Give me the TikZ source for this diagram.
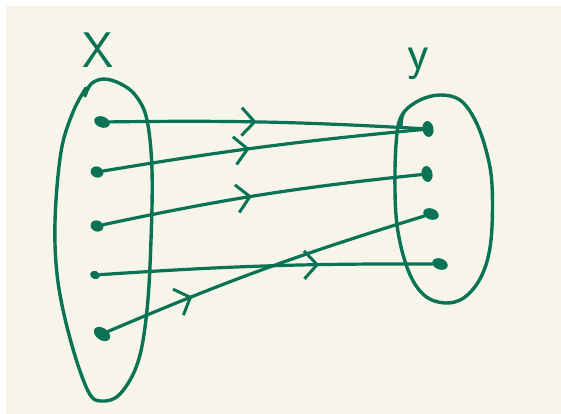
\documentclass[tikz,border=0pt]{standalone}
\usepackage{tikz}
\usetikzlibrary{positioning,calc,shapes.geometric,arrows.meta,decorations.markings}

\definecolor{ink}{RGB}{10,115,85}
\definecolor{paper}{RGB}{247,245,233}

\begin{document}
\begin{tikzpicture}[x=1pt, y=-1pt,
    setline/.style={draw=ink, line width=3.4pt, line cap=round, line join=round},
    dot/.style={ellipse, fill=ink, inner sep=0pt, minimum width=16pt, minimum height=11pt, rotate=-20},
    setname/.style={text=ink, font=\sffamily\fontsize{50}{50}\selectfont},
    map/.style={draw=ink, line width=3.2pt, line cap=round, postaction={decorate},
        decoration={markings, mark=at position #1 with {\arrow{Straight Barb[length=13pt,width=28pt,line width=3pt]}}}}
]

% Paper
\useasboundingbox (0,0) rectangle (561,414);
\fill[white] (0,0) rectangle (561,414);
\fill[paper] (6,6) rectangle (561,414);

% Set names
\node[setname] (nameX) at (98,50) {X};
\node[setname] (nameY) at (418,64) {y};

% Set X outline
\draw[setline] plot[smooth, tension=0.6] coordinates {
    (85,96) (91,84) (104,79) (121,84) (136,96) (147,120) (152,170)
    (151,240) (147,310) (138,362) (120,394) (101,401) (88,391)
    (71,342) (58,282) (55,222) (61,152) (73,112) (86,88)};

% Set Y outline
\draw[setline] plot[smooth, tension=0.6] coordinates {
    (401,126) (404,112) (420,100) (440,95) (460,100) (475,120) (486,150)
    (492,185) (491,240) (482,275) (465,297) (445,303) (424,295)
    (408,270) (397,225) (395,170) (398,126) (405,111)};

% Elements of X
\node[dot] (x1) at (102,122) {};
\node[dot, minimum width=13pt] (x2) at (97,172) {};
\node[dot, minimum width=13pt] (x3) at (97,226) {};
\node[dot, minimum width=10pt, minimum height=8pt] (x4) at (95,275) {};
\node[dot, minimum width=18pt, minimum height=12pt, rotate=-15] (x5) at (102,334) {};

% Elements of Y
\node[dot, rotate=-60] (y1) at (428,129) {};
\node[dot, rotate=-60] (y2) at (427,174) {};
\node[dot] (y3) at (431,214) {};
\node[dot] (y4) at (440,264) {};

% Mapping
\draw[map=0.47] (x1) to[bend left=2] (y1);
\draw[map=0.46] (x2) to[bend left=2] (y1);
\draw[map=0.47] (x3) to[bend left=3] (y2);
\draw[map=0.66] (x4) to[bend left=2] (y4);
\draw[map=0.27] (x5) to[bend left=3] (y3);

\end{tikzpicture}
\end{document}
